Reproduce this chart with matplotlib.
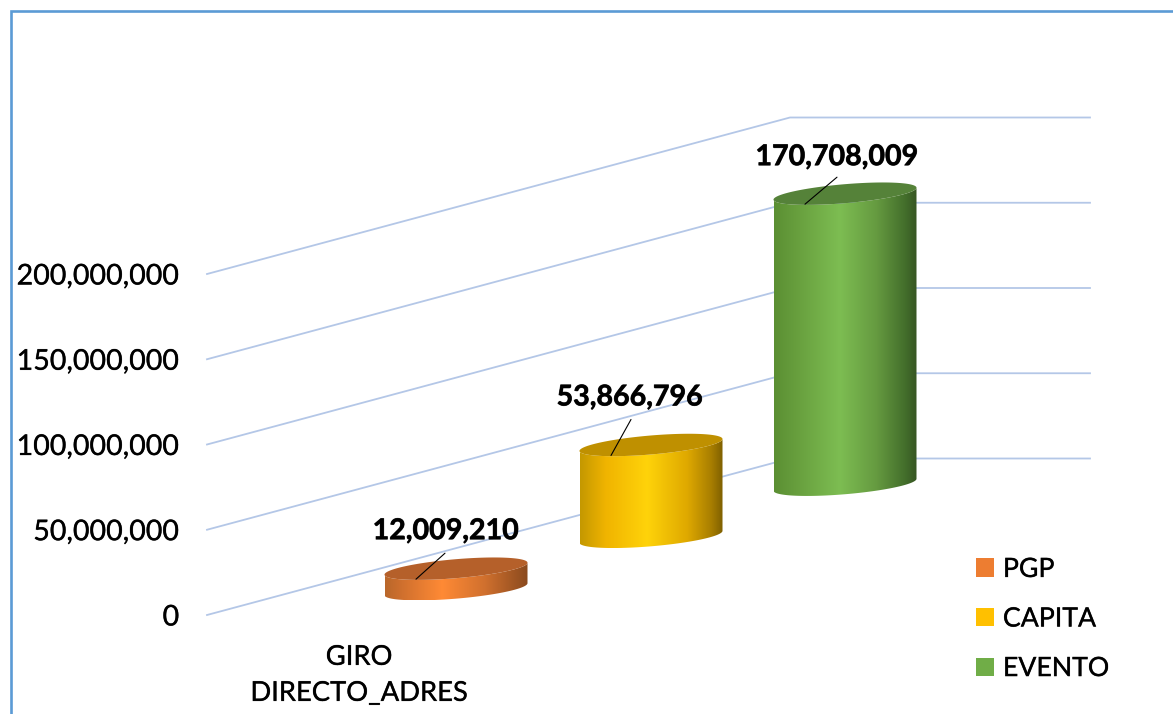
import numpy as np
import matplotlib
matplotlib.use("Agg")
import matplotlib.pyplot as plt
import matplotlib.patheffects as pe
from matplotlib.colors import LinearSegmentedColormap
from matplotlib.lines import Line2D
from matplotlib.patches import Patch, Polygon

W, H = 1173, 714
categories = ["GIRO\nDIRECTO_ADRES"]
series = ["PGP", "CAPITA", "EVENTO"]
values = [12009210, 53866796, 170708009]
labels = ["12,009,210", "53,866,796", "170,708,009"]
yticks = [0, 50000000, 100000000, 150000000, 200000000]
legend_colors = ["#ED7D31", "#FFC000", "#70AD47"]
top_colors = ["#B5602A", "#BF9000", "#558239"]
stops = [
    [(0, "#B9672B"), (.12, "#D0702E"), (.40, "#FF8A35"), (.70, "#D0702E"), (1, "#8A4A1E")],
    [(0, "#C49800"), (.18, "#F0B400"), (.47, "#FFD30A"), (.75, "#DFA900"), (.92, "#A87E00"), (1, "#7F6000")],
    [(0, "#5B8F33"), (.18, "#69A13F"), (.46, "#7DBD52"), (.72, "#659A40"), (.92, "#436E2B"), (1, "#375623")],
]
centers_x = [456, 651, 845]       # layout, in pixels across the floor
label_off = [(-10, 37.5), (-21, 47.5), (-8, 36.5)]
leader_off = [(29, 26), (20, 36), (32, 27)]

FRONT, BACK, RIGHT = 207, 790, 1090
Y0, PX_PER_VALUE = 615, 341 / 200e6
DEPTH_PX = 156.5
SLOPE = 156.5 / 583
FLOOR_FRONT = 41
HALF_W, HALF_H, SKEW = 71.5, 9.5, 6 / 72

plt.rcParams["font.family"] = ["Lato", "DejaVu Sans"]
fig = plt.figure(figsize=(W / 100, H / 100), dpi=100, facecolor="white")
ax = fig.add_axes([FRONT / W, 1 - Y0 / H, (RIGHT - FRONT) / W, 341 / H], facecolor="none")
soft = [pe.withStroke(linewidth=0.5, foreground="#00000055")]
heavy = [pe.withStroke(linewidth=0.6, foreground="#000000aa")]


def val(px):
    return px / PX_PER_VALUE


for v in yticks:
    ax.plot([FRONT, BACK, RIGHT], [v, v + val(DEPTH_PX), v + val(DEPTH_PX)],
            color="#B4C7E7", lw=1.3, clip_on=False, zorder=1, solid_joinstyle="miter")

t = np.linspace(0, 2 * np.pi, 181)
for i, (cx, value) in enumerate(zip(centers_x, values)):
    base = val(SLOPE * (cx - FRONT) - FLOOR_FRONT)
    top = base + value
    dx = HALF_W * np.cos(t)
    dy = val(HALF_H) * np.sin(t) + val(SKEW) * dx
    lower = np.linspace(np.pi, 2 * np.pi, 91)
    lx = HALF_W * np.cos(lower)
    ly = val(HALF_H) * np.sin(lower) + val(SKEW) * lx
    body_x = np.r_[cx + lx, cx + lx[::-1]]
    body_y = np.r_[base + ly, top + ly[::-1]]
    body = Polygon(np.c_[body_x, body_y], closed=True, transform=ax.transData,
                   fc="none", ec="none", clip_on=False)
    ax.add_patch(body)
    cmap = LinearSegmentedColormap.from_list(series[i], stops[i])
    img = ax.imshow(np.linspace(0, 1, 256)[None, :], cmap=cmap, aspect="auto",
                    extent=(cx - HALF_W, cx + HALF_W, body_y.min(), body_y.max()),
                    interpolation="bilinear", zorder=3 + i)
    img.set_clip_box(fig.bbox)
    img.set_clip_path(body)
    ax.fill(cx + dx, top + dy, color=top_colors[i], lw=0, clip_on=False, zorder=3.5 + i)
    ax.annotate("", xy=(cx - 40, top - val(10.5)), xycoords="data",
                xytext=leader_off[i], textcoords="offset pixels",
                arrowprops=dict(arrowstyle="-", color="black", lw=0.8, shrinkA=0, shrinkB=0),
                annotation_clip=False, zorder=8)
    ax.annotate(labels[i], xy=(cx, top), xycoords="data", xytext=label_off[i],
                textcoords="offset pixels", ha="center", va="center", fontsize=20.6,
                fontweight="bold", color="black", annotation_clip=False, zorder=9,
                path_effects=heavy)

ax.set_xlim(FRONT, RIGHT)
ax.set_ylim(0, 200e6)
ax.set_yticks(yticks)
ax.set_yticklabels([f"{v:,}" for v in yticks], fontsize=20.6, color="black", path_effects=soft)
ax.set_xticks([359])
ax.set_xticklabels(categories, fontsize=19.7, color="black", linespacing=1.55, path_effects=soft)
ax.tick_params(axis="both", length=0)
ax.tick_params(axis="y", pad=20)
ax.tick_params(axis="x", pad=21.5)
for s in ax.spines.values():
    s.set_visible(False)

handles = [Patch(fc=c, ec="none") for c in legend_colors]
leg = ax.legend(handles, series, loc="upper left", bbox_to_anchor=(976 / W, 1 - 557 / H),
                bbox_transform=fig.transFigure, frameon=False, fontsize=19.2,
                handlelength=0.68, handleheight=0.68, handletextpad=0.33,
                labelspacing=0.92, borderpad=0, borderaxespad=0)
for txt in leg.get_texts():
    txt.set_path_effects(soft)

fig.add_artist(Line2D([11 / W, 11 / W, 1], [0, 1 - 11 / H, 1 - 11 / H],
                      transform=fig.transFigure, color="#5B9BD5", lw=1.9,
                      solid_joinstyle="miter"))
fig.savefig("out.png", dpi=100)
